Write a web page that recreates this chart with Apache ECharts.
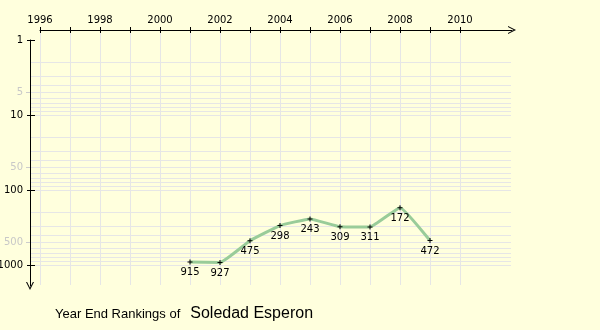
<!DOCTYPE html>
<html><head><meta charset="utf-8">
<script src="https://cdn.jsdelivr.net/npm/echarts@6/dist/echarts.min.js"></script>
<style>html,body{margin:0;padding:0;background:#FFFFDD}#c{width:600px;height:330px}</style>
</head><body><div id="c"></div>
<script>
const years = [2001, 2002, 2003, 2004, 2005, 2006, 2007, 2008, 2009];
const ranks = [915, 927, 475, 298, 243, 309, 311, 172, 472];
const xTickYears = [1996,1997,1998,1999,2000,2001,2002,2003,2004,2005,2006,2007,2008,2009,2010];
const xLabelYears = [1996,1998,2000,2002,2004,2006,2008,2010];
const yMajor = [1, 10, 100, 1000];
const yMinorLabels = [5, 50, 500];
const yGridValues = [2,3,4,5,6,7,8,9,10,20,30,40,50,60,70,80,90,100,200,300,400,500,600,700,800,900,1000];
const playerName = 'Soledad Esperon';
const titleText = 'Year End Rankings of';

const FONT = 'DejaVu Sans';
const arrowPath = 'path://M0,10 L5,0 L10,10 L8.6,10 L5,2.8 L1.4,10 Z';
const plusPath = 'path://M4,0 H6 V4 H10 V6 H6 V10 H4 V6 H0 V4 H4 Z';
const YMIN = 1, YMAX = 1905;
const gridColor = '#e6e6e6';

const chart = echarts.init(document.getElementById('c'));
const yBase = {type:'log', logBase:10, inverse:true, min:YMIN, max:YMAX, gridIndex:0, position:'left', offset:0,
  splitLine:{show:false}, minorTick:{show:false}};
const xTop = {type:'value', gridIndex:1, min:1996, max:2011.733, position:'top', offset:10, splitLine:{show:false}};
chart.setOption({
  backgroundColor:'#FFFFDD',
  animation:false,
  title:{left:50, top:300, text:'{a|' + titleText + '}  {b|' + playerName + '}',
    textStyle:{fontWeight:'normal', rich:{a:{fontFamily:'Liberation Sans', fontSize:13, color:'#000', fontWeight:'normal'},
                     b:{fontFamily:'Liberation Sans', fontSize:16, color:'#000', fontWeight:'normal'}}}},
  grid:[{left:30, right:89, top:40, bottom:44, containLabel:false, outerBoundsMode:'none'},
        {left:40, right:88, top:40, bottom:44, containLabel:false, outerBoundsMode:'none'},
        {left:40, right:140, top:30, bottom:45, containLabel:false, outerBoundsMode:'none'}],
  xAxis:[
    {type:'value', gridIndex:0, min:1995.6667, max:2011.7, show:false},
    {type:'value', gridIndex:2, min:1996, max:2010, interval:1, z:0,
      axisLine:{show:false, onZero:false}, axisTick:{show:false}, axisLabel:{show:false},
      splitLine:{show:true, lineStyle:{color:gridColor, width:1}}},
    Object.assign({}, xTop, {z:5,
      axisLine:{show:true, onZero:false, symbol:['none', arrowPath], symbolSize:[8,9], lineStyle:{color:'#000', width:1}},
      axisTick:{show:true, length:3, customValues:xTickYears, lineStyle:{color:'#000'}},
      axisLabel:{show:true, margin:5, customValues:xLabelYears, color:'#000', fontFamily:FONT, fontSize:10,
        formatter:v=>String(v)}}),
    Object.assign({}, xTop, {z:5, axisLine:{show:false, onZero:false},
      axisTick:{show:true, inside:true, length:3, customValues:xTickYears, lineStyle:{color:'#000'}},
      axisLabel:{show:false}})
  ],
  yAxis:[
    Object.assign({}, yBase, {z:5,
      axisLine:{show:true, onZero:false, symbol:[arrowPath, 'none'], symbolSize:[8,9], lineStyle:{color:'#000', width:1}},
      axisTick:{show:true, length:3, customValues:yMajor, lineStyle:{color:'#000'}},
      axisLabel:{show:true, margin:7, customValues:yMajor, color:'#000', fontFamily:FONT, fontSize:10, formatter:v=>String(v)}}),
    Object.assign({}, yBase, {z:5, axisLine:{show:false, onZero:false},
      axisTick:{show:true, inside:true, length:5, customValues:yMajor, lineStyle:{color:'#000'}},
      axisLabel:{show:false}}),
    Object.assign({}, yBase, {z:4, axisLine:{show:false, onZero:false},
      axisTick:{show:true, length:4, customValues:yMinorLabels, lineStyle:{color:'#cccccc'}},
      axisLabel:{show:true, margin:7, customValues:yMinorLabels, color:'#c8c8c8', fontFamily:FONT, fontSize:10, formatter:v=>String(v)}}),
    Object.assign({}, yBase, {z:1, axisLine:{show:false, onZero:false},
      axisTick:{show:true, inside:true, length:481, customValues:yGridValues, lineStyle:{color:gridColor, width:1}},
      axisLabel:{show:false}}),
    {type:'value', gridIndex:1, show:false, min:0, max:1},
    {type:'value', gridIndex:2, show:false, min:0, max:1}
  ],
  series:[{
    type:'line', xAxisIndex:0, yAxisIndex:0, z:10,
    data: years.map((y,i)=>[y, ranks[i]]),
    smooth:0.1,
    lineStyle:{color:'#99CC99', width:3},
    symbol:plusPath, symbolSize:5, itemStyle:{color:'#000'},
    label:{show:true, position:'bottom', distance:3, color:'#000', fontFamily:FONT, fontSize:10,
      formatter:p=>String(p.value[1])}
  }]
});
</script></body></html>
